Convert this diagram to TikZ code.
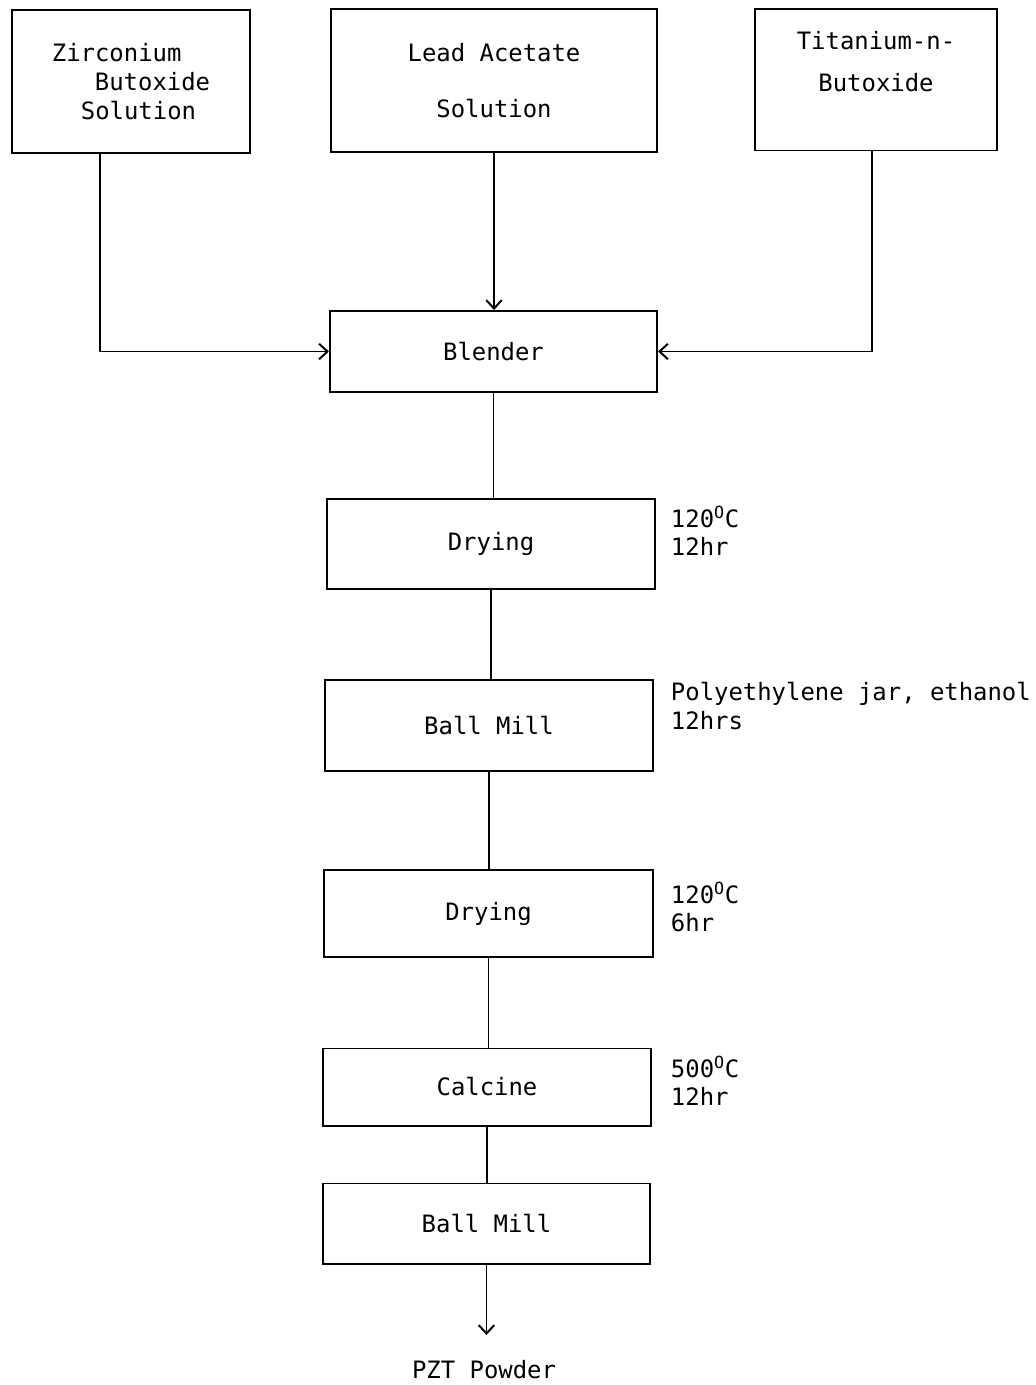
\documentclass[tikz,border=0pt]{standalone}
\usepackage{fontspec}
\setmonofont{DejaVu Sans Mono}
\usetikzlibrary{arrows.meta}

\begin{document}
\begin{tikzpicture}[x=0.025cm,y=-0.025cm,line width=1.4pt,>={Straight Barb[length=6pt,width=11pt]},
  font=\ttfamily\fontsize{17}{20.4}\selectfont,
  box/.style={draw,align=center,inner sep=0pt},
  note/.style={anchor=west,align=left,inner sep=0pt},
  flow/.style={->}]
\useasboundingbox (0,0) rectangle (1035,1385);
\node[box,align=left,minimum width=5.95cm,minimum height=3.575cm] (zirc) at (131,81.5) {Zirconium\\\hspace*{1.075cm}Butoxide\\\hspace*{0.725cm}Solution};
\node[box,minimum width=8.15cm,minimum height=3.575cm] (lead) at (494,80.5) {Lead Acetate\\[20pt]Solution};
\node[box,minimum width=6.05cm,minimum height=3.525cm] (ti) at (876,80) {Titanium-n-\\[9pt]Butoxide\\[0pt]\strut};
\node[box,minimum width=8.175cm,minimum height=2.025cm] (blender) at (493.5,351.5) {Blender};
\node[box,minimum width=8.2cm,minimum height=2.25cm] (dry1) at (491,544) {Drying};
\node[box,minimum width=8.2cm,minimum height=2.275cm] (mill1) at (489,725.5) {Ball Mill};
\node[box,minimum width=8.225cm,minimum height=2.175cm] (dry2) at (488.5,913.5) {Drying};
\node[box,minimum width=8.2cm,minimum height=1.925cm] (calc) at (487,1087) {Calcine};
\node[box,minimum width=8.175cm,minimum height=2cm] (mill2) at (486.5,1223.5) {Ball Mill};
\coordinate (out) at (486.5,1335);
\node[inner sep=0pt] (pzt) at (484,1370) {PZT Powder};
\node[note] (dry1note) at (670,531) {120\textsuperscript{O}C\\12hr};
\node[note] (mill1note) at (670,706) {Polyethylene jar, ethanol\\12hrs};
\node[note] (dry2note) at (670,907) {120\textsuperscript{O}C\\6hr};
\node[note] (calcnote) at (670,1081) {500\textsuperscript{O}C\\12hr};
\draw[flow] ([xshift=-0.775cm]zirc.south) |- (blender.west);
\draw[flow] (lead.south) -- (lead.south |- blender.north);
\draw[flow] ([xshift=-0.1cm]ti.south) |- (blender.east);
\draw (blender.south) -- (blender.south |- dry1.north);
\draw (dry1.south) -- (dry1.south |- mill1.north);
\draw (mill1.south) -- (mill1.south |- dry2.north);
\draw (dry2.south) -- (dry2.south |- calc.north);
\draw (calc.south) -- (calc.south |- mill2.north);
\draw[flow] (mill2.south) -- (out);
\end{tikzpicture}
\end{document}
